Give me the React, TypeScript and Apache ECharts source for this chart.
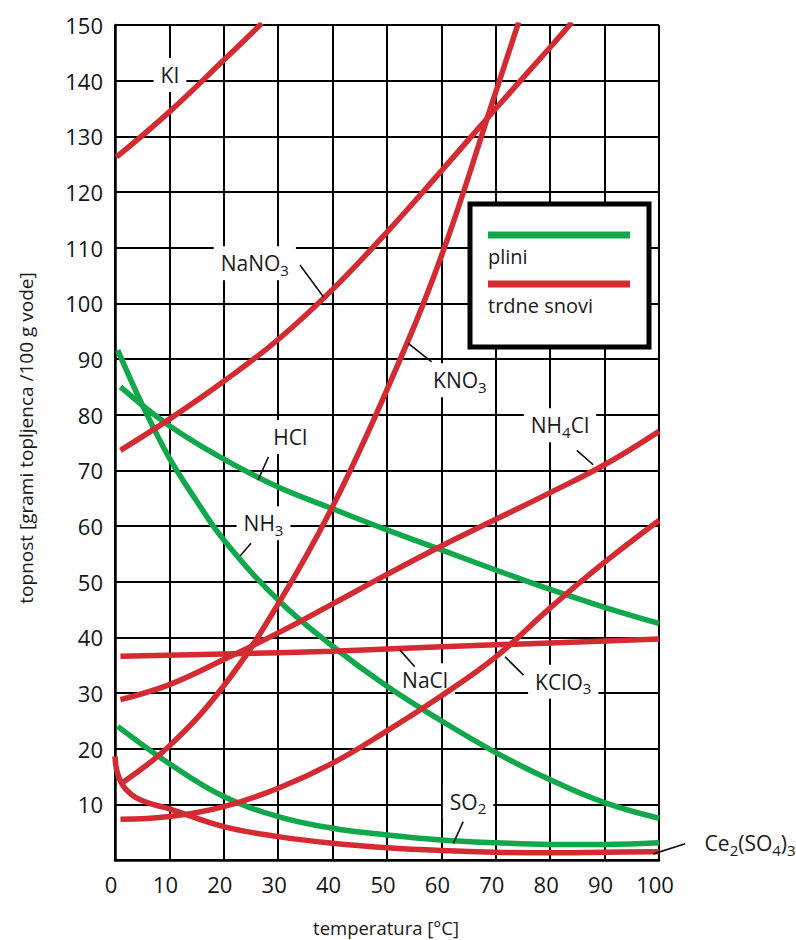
import React, { useEffect, useRef } from "react";
import * as echarts from "echarts";

// ---- data (temperature °C, solubility g / 100 g water) ----
const xTicks = [0, 10, 20, 30, 40, 50, 60, 70, 80, 90, 100];
const yTicks = [10, 20, 30, 40, 50, 60, 70, 80, 90, 100, 110, 120, 130, 140, 150];

const kiData = [[0.3, 126.3], [10, 134.4], [20, 143.7], [27, 150.3]];
const nano3Data = [[1, 73.6], [10, 79.2], [20, 86], [30, 93.5], [40, 102.5], [50, 112.8], [60, 123.8], [70, 135], [80, 146], [84, 150.5]];
const kno3Data = [[1.2, 13.8], [10, 20.5], [20, 31.3], [30, 46], [40, 63.5], [50, 84.5], [60, 108.5], [70, 138], [74.2, 150.5]];
const nh4clData = [[1, 28.8], [10, 31.5], [20, 36], [30, 40.8], [40, 46], [50, 51.3], [60, 56.4], [70, 61.2], [80, 66], [90, 71], [100, 77]];
const naclData = [[1, 36.6], [20, 37], [40, 37.5], [60, 38.3], [80, 39], [100, 39.7]];
const kclo3Data = [[1, 7.3], [10, 7.8], [20, 9.6], [30, 12.9], [40, 17.4], [50, 23.2], [60, 29.5], [70, 36.5], [80, 45.3], [90, 53.5], [100, 61]];
const ce2so43Data = [[0, 18.6], [0.3, 16.2], [1, 14.2], [2, 12.7], [4, 11.1], [7, 10], [10, 9.2], [20, 6], [30, 4.2], [40, 3], [50, 2.2], [60, 1.7], [70, 1.4], [80, 1.3], [90, 1.4], [100, 1.5]];
const hclData = [[1, 85], [10, 78], [20, 72], [30, 67], [40, 63.1], [50, 59.3], [60, 55.7], [70, 52.1], [80, 48.6], [90, 45.4], [100, 42.5]];
const nh3Data = [[0.5, 91.6], [5, 81.8], [10, 72.2], [15, 64.5], [20, 57.5], [30, 46.7], [40, 38.4], [50, 31.2], [60, 25], [70, 19.3], [80, 14.4], [90, 10.3], [100, 7.5]];
const so2Data = [[0.5, 24], [10, 17.3], [20, 11.4], [30, 7.8], [40, 5.7], [50, 4.5], [60, 3.6], [70, 3.1], [80, 2.8], [90, 2.8], [100, 3.1]];

const solids = [kiData, nano3Data, kno3Data, nh4clData, naclData, kclo3Data, ce2so43Data];
const solidNames = ["KI", "NaNO3", "KNO3", "NH4Cl", "NaCl", "KClO3", "Ce2(SO4)3"];
const gases = [hclData, nh3Data, so2Data];
const gasNames = ["HCl", "NH3", "SO2"];

// label text (n = normal, s = subscript), anchor in data coords, leader line in data coords
const curveLabels = [
  { parts: [["KI", "n"]], at: [10.1, 141], leader: null, align: "center" },
  { parts: [["NaNO", "n"], ["3", "s"]], at: [25.7, 107.2], leader: [[34, 106.9], [38.3, 101.2]], align: "center" },
  { parts: [["HCl", "n"]], at: [32.2, 76], leader: [[28.2, 72.4], [26.3, 68.3]], align: "center" },
  { parts: [["NH", "n"], ["3", "s"]], at: [27.3, 60.5], leader: [[25, 56.9], [23, 54.6]], align: "center" },
  { parts: [["KNO", "n"], ["3", "s"]], at: [63.4, 86.2], leader: [[58.2, 89.5], [53.9, 92.8]], align: "center" },
  { parts: [["NH", "n"], ["4", "s"], ["Cl", "n"]], at: [81.8, 78.1], leader: [[84.9, 73.6], [87.9, 71]], align: "center" },
  { parts: [["NaCl", "n"]], at: [57, 32.3], leader: [[55.1, 34.7], [52.4, 37.7]], align: "center" },
  { parts: [["KClO", "n"], ["3", "s"]], at: [82.4, 32], leader: [[75.1, 33.2], [71.7, 36.5]], align: "center" },
  { parts: [["SO", "n"], ["2", "s"]], at: [64.9, 10.5], leader: [[64, 6.9], [62.2, 3]], align: "center" },
  { parts: [["Ce", "n"], ["2", "s"], ["(SO", "n"], ["4", "s"], [")", "n"], ["3", "s"]], at: [107.1, 3], leader: [[104.8, 2.9], [99, 1.1]], align: "left" },
];

const RED = "#d42a32";
const GREEN = "#10a84a";
const FONT = "'Open Sans', 'Noto Sans', sans-serif";

export default function App() {
  const ref = useRef<HTMLDivElement>(null);

  useEffect(() => {
    if (!ref.current) return;
    const chart = echarts.init(ref.current, undefined, { renderer: "svg" });

    const mkSeries = (data: number[][], name: string, color: string) => ({
      type: "line",
      name,
      data,
      smooth: 0.4,
      showSymbol: false,
      symbol: "none",
      clip: true,
      lineStyle: { color, width: 5.5 },
      z: 3,
    });

    const series = [
      ...gases.map((d, i) => mkSeries(d, gasNames[i], GREEN)),
      ...solids.map((d, i) => mkSeries(d, solidNames[i], RED)),
    ];

    chart.setOption({
      animation: false,
      backgroundColor: "#fff",
      grid: { left: 115, right: 137, top: 25, bottom: 80 },
      xAxis: {
        type: "value",
        min: xTicks[0],
        max: xTicks[xTicks.length - 1],
        interval: 10,
        z: 0,
        axisLine: { show: true, lineStyle: { color: "#000", width: 2.5 } },
        axisTick: { show: false },
        splitLine: { show: true, lineStyle: { color: "#000", width: 2 } },
        axisLabel: { fontSize: 22, color: "#151515", margin: 13, fontFamily: FONT, padding: [0, 8, 0, 0] },
      },
      yAxis: {
        type: "value",
        min: 0,
        max: yTicks[yTicks.length - 1],
        interval: 10,
        z: 0,
        axisLine: { show: true, lineStyle: { color: "#000", width: 2.5 } },
        axisTick: { show: false },
        splitLine: { show: true, lineStyle: { color: "#000", width: 2 } },
        axisLabel: {
          fontSize: 22,
          color: "#151515",
          margin: 12,
          fontFamily: FONT,
          formatter: (v: number) => (yTicks.includes(v) ? String(v) : ""),
        },
      },
      series,
    });

    const toPx = (p: number[]) => chart.convertToPixel({ xAxisIndex: 0, yAxisIndex: 0 }, p) as number[];

    const graphics: any[] = [];
    curveLabels.forEach((lab) => {
      const [px, py] = toPx(lab.at);
      const text = lab.parts.map(([t, k]) => `{${k}|${t}}`).join("");
      graphics.push({
        type: "text",
        x: px,
        y: py,
        z: 1,
        style: {
          text,
          align: lab.align,
          verticalAlign: "middle",
          backgroundColor: "#fff",
          padding: [3, 7, 3, 7],
          rich: {
            n: { fontSize: 21, fontFamily: FONT, fill: "#1a1a1a", lineHeight: 28 },
            s: { fontSize: 15, fontFamily: FONT, fill: "#1a1a1a", lineHeight: 15, verticalAlign: "bottom" },
          },
        },
      });
      if (lab.leader) {
        const a = toPx(lab.leader[0]);
        const b = toPx(lab.leader[1]);
        graphics.push({
          type: "line",
          z: 4,
          shape: { x1: a[0], y1: a[1], x2: b[0], y2: b[1] },
          style: { stroke: "#111", lineWidth: 1.6 },
        });
      }
    });

    // legend box
    graphics.push(
      { type: "rect", z: 10, shape: { x: 470, y: 204, width: 179, height: 143 }, style: { fill: "#fff", stroke: "#000", lineWidth: 5 } },
      { type: "line", z: 11, shape: { x1: 488, y1: 235, x2: 630, y2: 235 }, style: { stroke: GREEN, lineWidth: 7 } },
      { type: "text", z: 11, x: 488, y: 256, style: { text: "plini", fontSize: 20, fontFamily: FONT, fill: "#1a1a1a", align: "left", verticalAlign: "middle" } },
      { type: "line", z: 11, shape: { x1: 488, y1: 284, x2: 630, y2: 284 }, style: { stroke: RED, lineWidth: 7 } },
      { type: "text", z: 11, x: 488, y: 305, style: { text: "trdne snovi", fontSize: 20, fontFamily: FONT, fill: "#1a1a1a", align: "left", verticalAlign: "middle" } }
    );

    // axis titles
    graphics.push(
      {
        type: "text",
        z: 11,
        x: 26,
        y: 438,
        rotation: Math.PI / 2,
        style: { text: "topnost [grami topljenca /100 g vode]", fontSize: 19, fontFamily: FONT, fill: "#1a1a1a", align: "center", verticalAlign: "middle" },
      },
      {
        type: "text",
        z: 11,
        x: 386,
        y: 927,
        style: { text: "temperatura [°C]", fontSize: 18.5, fontFamily: FONT, fill: "#1a1a1a", align: "center", verticalAlign: "middle" },
      }
    );

    chart.setOption({ graphic: { elements: graphics } });

    return () => chart.dispose();
  }, []);

  return <div ref={ref} style={{ position: "absolute", left: 0, top: 0, width: 796, height: 940 }} />;
}
